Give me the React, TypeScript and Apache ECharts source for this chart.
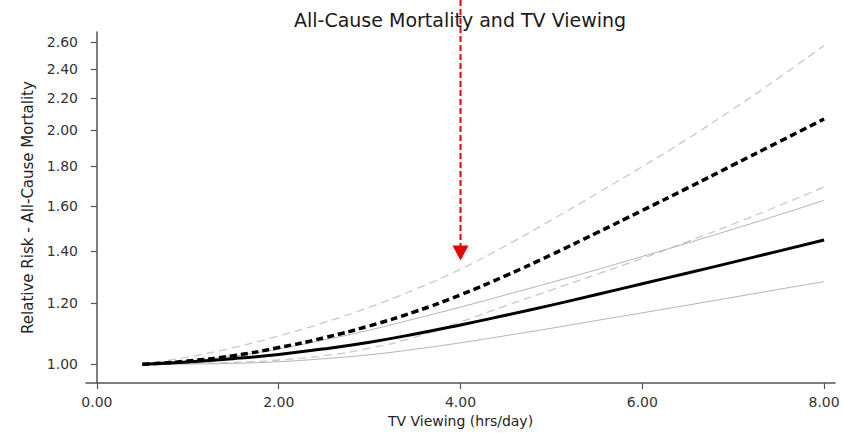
import React, { useEffect, useRef } from "react";
import * as echarts from "echarts";

// TV viewing hours (x) at which each curve is sampled
const hours = [0.5, 1, 1.5, 2, 2.5, 3, 3.5, 4, 4.5, 5, 5.5, 6, 6.5, 7, 7.5, 8];

// Model 1 (solid) estimate and 95% CI
const rrSolid = [1.0, 1.007, 1.017, 1.03, 1.047, 1.068, 1.094, 1.124, 1.157, 1.192, 1.23, 1.27, 1.311, 1.354, 1.399, 1.446];
const rrSolidUpper = [1.0, 1.01, 1.025, 1.047, 1.075, 1.107, 1.145, 1.185, 1.229, 1.275, 1.324, 1.377, 1.433, 1.493, 1.557, 1.626];
const rrSolidLower = [1.0, 1.001, 1.003, 1.008, 1.017, 1.029, 1.046, 1.066, 1.089, 1.113, 1.139, 1.165, 1.192, 1.22, 1.249, 1.278];

// Model 2 (dashed) estimate and 95% CI
const rrDashed = [1.0, 1.01, 1.026, 1.051, 1.082, 1.121, 1.169, 1.229, 1.301, 1.384, 1.477, 1.578, 1.687, 1.806, 1.933, 2.069];
const rrDashedUpper = [1.0, 1.022, 1.051, 1.088, 1.132, 1.185, 1.249, 1.326, 1.422, 1.534, 1.659, 1.797, 1.952, 2.132, 2.337, 2.573];
const rrDashedLower = [1.0, 1.002, 1.006, 1.013, 1.026, 1.049, 1.084, 1.134, 1.19, 1.247, 1.306, 1.369, 1.439, 1.516, 1.6, 1.692];

// Axis ticks
const xTicks = [0, 2, 4, 6, 8];
const yTicks = [1.0, 1.2, 1.4, 1.6, 1.8, 2.0, 2.2, 2.4, 2.6];

// Annotation arrow: points down at this x, tip at this relative risk
const arrowX = 4;
const arrowTipRR = 1.36;

const FONT = '"DejaVu Sans", "Liberation Sans", Arial, sans-serif';

const pairs = (ys: number[]) => hours.map((h, i) => [h, ys[i]]);

function line(name: string, ys: number[], color: string, width: number, type: any, z: number) {
  return {
    name,
    type: "line",
    data: pairs(ys),
    smooth: true,
    showSymbol: false,
    symbol: "none",
    z,
    lineStyle: { color, width, type, cap: "butt" },
  };
}

export default function App() {
  const ref = useRef<HTMLDivElement>(null);

  useEffect(() => {
    if (!ref.current) return;
    const chart = echarts.init(ref.current, null, { renderer: "svg" });
    chart.setOption({
      animation: false,
      backgroundColor: "#ffffff",
      title: {
        text: "All-Cause Mortality and TV Viewing",
        left: 289,
        top: 5,
        textStyle: { fontFamily: FONT, fontSize: 19, fontWeight: "normal", color: "#1a1a1a" },
      },
      grid: { left: 86, right: 8, top: 32, bottom: 47 },
      xAxis: {
        type: "value",
        min: -0.12,
        max: 8.12,
        name: "TV Viewing (hrs/day)",
        nameLocation: "middle",
        nameGap: 28,
        nameTextStyle: { fontFamily: FONT, fontSize: 14, color: "#222" },
        axisLine: { onZero: false, lineStyle: { color: "#555", width: 1.5 } },
        axisTick: { show: true, length: 6, customValues: xTicks, lineStyle: { color: "#555", width: 1.2 } },
        axisLabel: {
          customValues: xTicks,
          margin: 12,
          fontFamily: FONT,
          fontSize: 14,
          color: "#333",
          formatter: (v: number) => v.toFixed(2),
        },
        splitLine: { show: false },
      },
      yAxis: {
        type: "log",
        logBase: 10,
        min: 0.946,
        max: 2.678,
        name: "Relative Risk - All-Cause Mortality",
        nameLocation: "middle",
        nameGap: 50,
        nameRotate: 90,
        nameTextStyle: { fontFamily: FONT, fontSize: 15, color: "#222" },
        axisLine: { show: true, lineStyle: { color: "#555", width: 1.5 } },
        axisTick: { show: true, length: 6, customValues: yTicks, lineStyle: { color: "#555", width: 1.2 } },
        axisLabel: {
          customValues: yTicks,
          margin: 8,
          fontFamily: FONT,
          fontSize: 14,
          color: "#333",
          formatter: (v: number) => v.toFixed(2),
        },
        splitLine: { show: false },
        minorTick: { show: false },
      },
      series: [
        line("Dashed upper CI", rrDashedUpper, "#c8c8c8", 1.3, [8, 5], 1),
        line("Dashed lower CI", rrDashedLower, "#c8c8c8", 1.3, [8, 5], 1),
        line("Solid upper CI", rrSolidUpper, "#b4b4b4", 1, "solid", 2),
        line("Solid lower CI", rrSolidLower, "#b4b4b4", 1, "solid", 2),
        line("Model 2", rrDashed, "#000000", 3.5, [7, 4], 3),
        line("Model 1", rrSolid, "#000000", 3, "solid", 4),
      ],
    });

    // Red dashed arrow dropping from the top edge onto x = arrowX
    const [ax, ay] = chart.convertToPixel({ xAxisIndex: 0, yAxisIndex: 0 }, [arrowX, arrowTipRR]);
    const headH = 15;
    const headW = 8;
    chart.setOption({
      graphic: [
        {
          type: "line",
          z: 10,
          shape: { x1: ax, y1: 0, x2: ax, y2: ay - headH + 1 },
          style: { stroke: "#ee0000", lineWidth: 2, lineDash: [6, 3] },
        },
        {
          type: "polygon",
          z: 10,
          shape: { points: [[ax - headW, ay - headH], [ax + headW, ay - headH], [ax, ay]] },
          style: { fill: "#ee0000" },
        },
      ],
    });

    return () => chart.dispose();
  }, []);

  return <div ref={ref} style={{ width: 843, height: 433, position: "absolute", left: 0, top: 0 }} />;
}
